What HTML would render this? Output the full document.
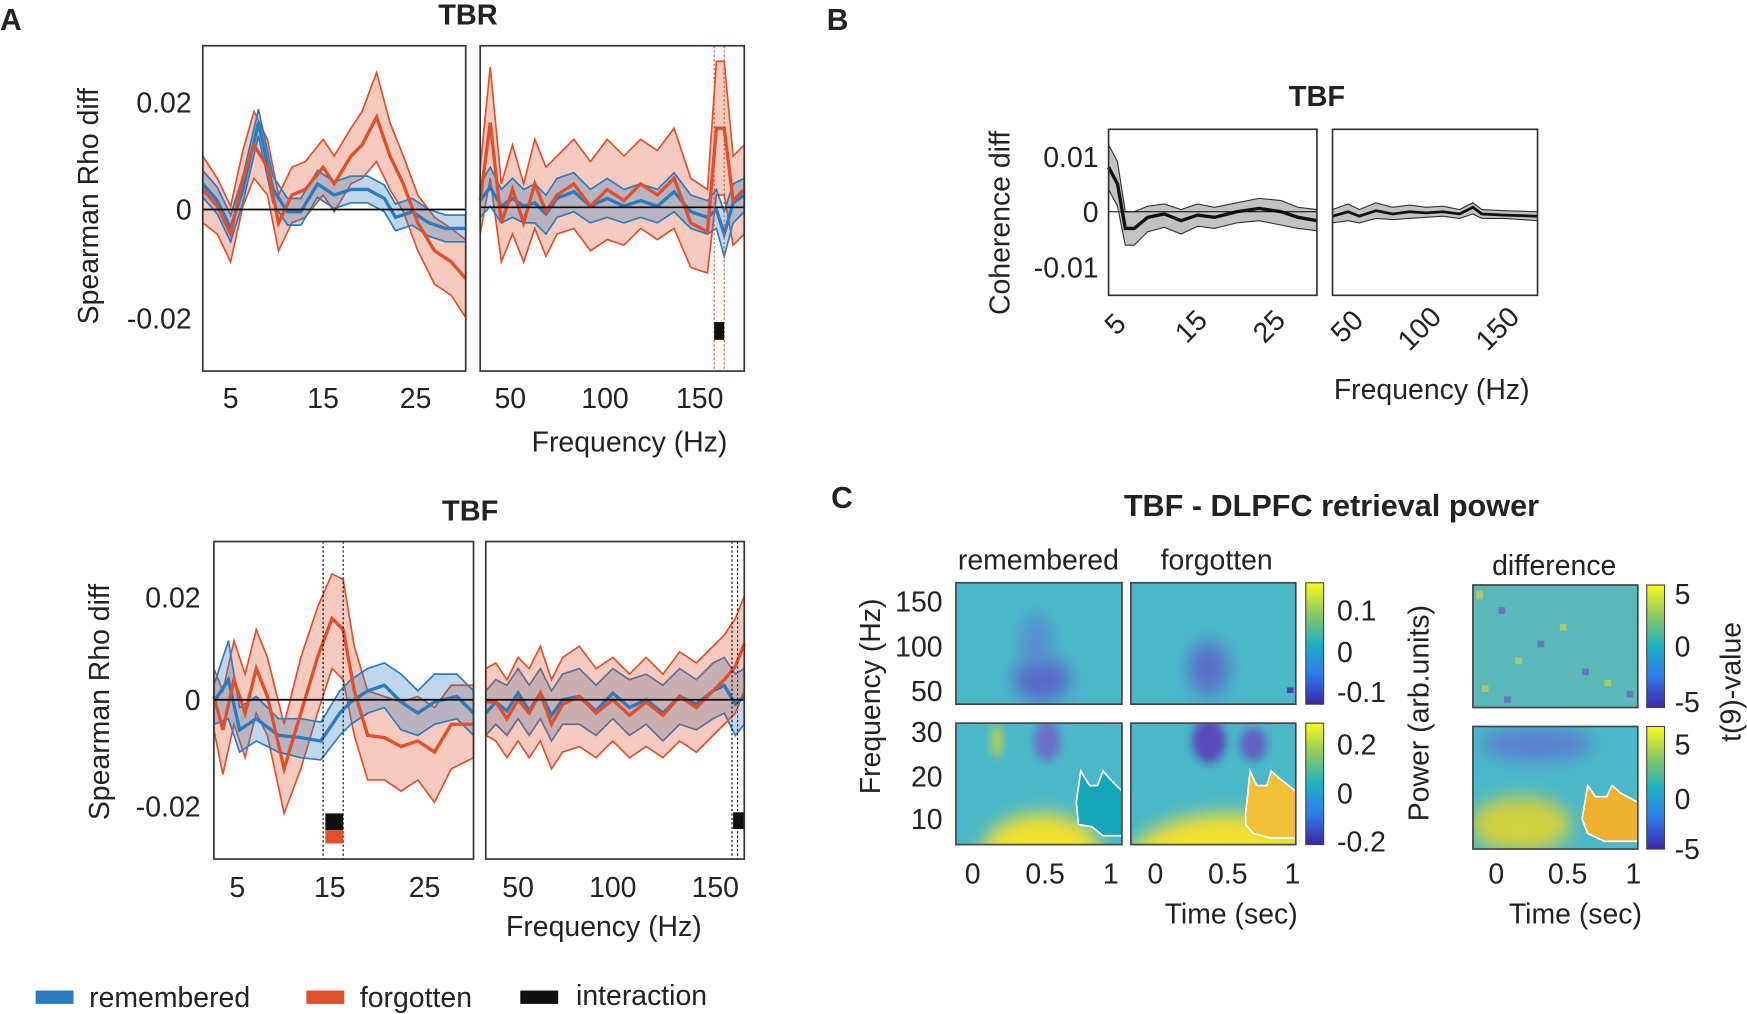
<!DOCTYPE html><html><head><style>body{margin:0;background:#fff}svg{display:block}text{font-family:"Liberation Sans",Arial,sans-serif;fill:#222}</style></head><body>
<svg width="1747" height="1014" viewBox="0 0 1568 910" xmlns="http://www.w3.org/2000/svg">
<defs>
<filter id="bl" x="-50%" y="-50%" width="200%" height="200%"><feGaussianBlur stdDeviation="8"/></filter>
<filter id="bl2" x="-50%" y="-50%" width="200%" height="200%"><feGaussianBlur stdDeviation="4"/></filter>
<linearGradient id="parula" x1="0" y1="1" x2="0" y2="0"><stop offset="0" stop-color="#3e26a8"/><stop offset="0.25" stop-color="#2d7bea"/><stop offset="0.5" stop-color="#1fb0c4"/><stop offset="0.75" stop-color="#8dc963"/><stop offset="1" stop-color="#f9fb15"/></linearGradient>
<clipPath id="c1"><rect x="858" y="649" width="149" height="109"/></clipPath>
<clipPath id="c2"><rect x="1015" y="649" width="148" height="109"/></clipPath>
<clipPath id="c3"><rect x="1322" y="652" width="148" height="110"/></clipPath>
<clipPath id="t1"><rect x="858" y="523" width="149" height="109"/></clipPath>
<clipPath id="t2"><rect x="1015" y="523" width="148" height="109"/></clipPath>
</defs>
<g font-size="26">
<text x="0" y="27" font-weight="bold" font-size="27">A</text>
<text x="742" y="27" font-weight="bold" font-size="27">B</text>
<text x="746" y="456" font-weight="bold" font-size="27">C</text>
<text x="420" y="22" font-weight="bold" text-anchor="middle">TBR</text>
<text x="422" y="467" font-weight="bold" text-anchor="middle">TBF</text>
<text x="1182" y="95" font-weight="bold" text-anchor="middle">TBF</text>
<text x="1195" y="463" font-weight="bold" text-anchor="middle" font-size="27.5">TBF - DLPFC retrieval power</text>
</g>
<!-- A top -->
<g fill-opacity="0.3" stroke-width="1.5">
<polygon fill="#e0502a" stroke="#e0502a" stroke-opacity="1" points="182,140 195,160 207,185 218,135 228,100 240,125 250,175 262,150 274,145 290,125 300,140 315,115 325,100 338,65 350,110 362,140 375,175 390,195 405,205 418,215 418,285 405,265 390,255 375,225 362,190 350,170 338,145 325,160 315,165 300,190 290,175 274,195 262,200 250,225 240,175 228,160 218,185 207,235 195,210 182,200"/>
<polygon fill="#2b7bbf" stroke="#2b7bbf" stroke-opacity="1" points="182,153 195,168 207,193 218,158 232,98 245,158 258,178 270,178 285,153 300,163 315,158 330,158 345,166 355,183 370,178 385,188 400,193 418,193 418,217 400,217 385,212 370,202 355,207 345,190 330,182 315,182 300,187 285,177 270,202 258,202 245,182 232,122 218,182 207,217 195,192 182,177"/>
<polygon fill="#e0502a" stroke="#e0502a" stroke-opacity="1" points="431,150 440,60 450,165 460,130 470,165 480,125 490,150 500,140 515,125 530,145 545,125 560,140 575,125 590,135 605,115 620,160 635,170 643,55 650,55 658,140 668,130 668,210 658,220 650,175 643,175 635,245 620,240 605,205 590,215 575,205 560,220 545,215 530,225 515,205 500,210 490,230 480,205 470,235 460,210 450,235 440,160 431,210"/>
<polygon fill="#2b7bbf" stroke="#2b7bbf" stroke-opacity="1" points="431,165 440,150 450,170 460,160 470,170 480,165 490,175 500,160 515,155 530,170 545,160 560,170 575,165 590,170 605,155 620,175 635,180 643,170 650,190 658,165 668,160 668,190 658,200 650,230 643,205 635,210 620,205 605,190 590,200 575,195 560,200 545,195 530,200 515,190 500,195 490,210 480,200 470,200 460,195 450,200 440,185 431,195"/>
</g>
<g fill="none" stroke-width="3">
<polyline stroke="#2b7bbf" points="182,165 195,180 207,205 218,170 232,110 245,170 258,190 270,190 285,165 300,175 315,170 330,170 345,178 355,195 370,190 385,200 400,205 418,205"/>
<polyline stroke="#e0502a" points="182,170 195,185 207,210 218,160 228,130 240,150 250,200 262,175 274,170 290,150 300,165 315,140 325,130 338,105 350,140 362,165 375,200 390,225 405,235 418,250"/>
<polyline stroke="#2b7bbf" points="431,180 440,168 450,185 460,178 470,185 480,182 490,192 500,178 515,172 530,185 545,178 560,185 575,180 590,185 605,172 620,190 635,195 643,188 650,210 658,182 668,175"/>
<polyline stroke="#e0502a" points="431,180 440,110 450,200 460,170 470,200 480,165 490,190 500,175 515,165 530,185 545,170 560,180 575,165 590,175 605,160 620,200 635,208 643,115 650,115 658,180 668,170"/>
</g>
<line x1="182" y1="188" x2="418" y2="188" stroke="#000" stroke-width="1.5"/>
<line x1="431" y1="186" x2="668" y2="186" stroke="#000" stroke-width="1.5"/>
<line x1="641" y1="41" x2="641" y2="333" stroke="#e0502a" stroke-dasharray="2,2"/>
<line x1="650" y1="41" x2="650" y2="333" stroke="#e0502a" stroke-dasharray="2,2"/>
<rect x="641" y="289" width="9" height="16" fill="#111"/>
<rect x="182" y="41" width="236" height="292" fill="none" stroke="#333" stroke-width="1.5"/>
<rect x="431" y="41" width="237" height="292" fill="none" stroke="#333" stroke-width="1.5"/>
<g font-size="25.5" text-anchor="middle">
<text x="172" y="101" text-anchor="end">0.02</text>
<text x="172" y="197" text-anchor="end">0</text>
<text x="172" y="295" text-anchor="end">-0.02</text>
<text x="207" y="366">5</text><text x="290" y="366">15</text><text x="373" y="366">25</text>
<text x="458" y="366">50</text><text x="543" y="366">100</text><text x="628" y="366">150</text>
<text x="565" y="405">Frequency (Hz)</text>
<text transform="translate(88,185) rotate(-90)">Spearman Rho diff</text>
</g>
<!-- A bottom -->
<g fill-opacity="0.3" stroke-width="1.5">
<polygon fill="#e0502a" stroke="#e0502a" stroke-opacity="1" points="192,600 200,620 210,575 220,605 230,565 240,590 255,650 270,590 285,545 298,515 308,520 318,580 330,620 345,625 360,630 375,625 390,635 405,615 425,615 425,680 405,690 390,720 375,700 360,710 345,700 330,700 318,660 308,610 298,600 285,640 270,690 255,730 240,660 230,640 220,680 210,650 200,695 192,655"/>
<polygon fill="#2b7bbf" stroke="#2b7bbf" stroke-opacity="1" points="192,615 205,575 215,635 230,625 250,645 270,645 288,648 305,620 315,610 330,600 345,595 360,605 375,620 390,605 410,605 425,620 425,660 410,645 390,650 375,660 360,655 345,635 330,640 315,650 305,660 288,682 270,680 250,675 230,665 215,675 205,645 192,650"/>
<polygon fill="#2b7bbf" stroke="#2b7bbf" stroke-opacity="1" points="436,620 445,610 455,615 465,600 475,615 485,600 495,620 505,605 520,600 535,615 550,600 565,610 580,605 595,615 610,600 625,610 640,595 650,590 660,605 668,600 668,650 660,660 650,640 640,645 625,655 610,650 595,665 580,650 565,660 550,645 535,660 520,650 505,650 495,665 485,645 475,660 465,645 455,660 445,650 436,660"/>
<polygon fill="#e0502a" stroke="#e0502a" stroke-opacity="1" points="436,600 445,595 455,610 465,590 475,600 485,580 495,610 505,590 520,580 535,600 550,590 565,605 580,590 595,605 610,585 625,595 640,580 650,570 660,555 668,535 668,620 660,640 650,650 640,660 625,675 610,665 595,680 580,670 565,680 550,665 535,680 520,670 505,675 495,690 485,665 475,680 465,665 455,680 445,665 436,660"/>
</g>
<g fill="none" stroke-width="3">
<polyline stroke="#2b7bbf" points="192,630 205,610 215,655 230,645 250,660 270,662 288,665 305,640 315,630 330,620 345,615 360,630 375,640 390,630 410,625 425,640"/>
<polyline stroke="#e0502a" points="192,625 200,655 210,610 220,640 230,600 240,625 255,690 270,640 285,590 298,555 308,565 318,620 330,660 345,662 360,670 375,665 390,675 405,650 425,650"/>
<polyline stroke="#2b7bbf" points="436,640 445,630 455,638 465,622 475,638 485,622 495,642 505,628 520,625 535,638 550,622 565,635 580,628 595,640 610,625 625,632 640,620 650,615 660,632 668,625"/>
<polyline stroke="#e0502a" points="436,630 445,630 455,645 465,628 475,640 485,622 495,650 505,632 520,625 535,640 550,628 565,642 580,630 595,642 610,625 625,635 640,620 650,610 660,598 668,578"/>
</g>
<line x1="192" y1="628" x2="425" y2="628" stroke="#000" stroke-width="1.5"/>
<line x1="436" y1="628" x2="668" y2="628" stroke="#000" stroke-width="1.5"/>
<line x1="290" y1="486" x2="290" y2="771" stroke="#000" stroke-dasharray="2,2"/>
<line x1="308" y1="486" x2="308" y2="771" stroke="#000" stroke-dasharray="2,2"/>
<line x1="657" y1="486" x2="657" y2="771" stroke="#000" stroke-dasharray="2,2"/>
<line x1="662" y1="486" x2="662" y2="771" stroke="#000" stroke-dasharray="2,2"/>
<rect x="292" y="730" width="16" height="15" fill="#111"/>
<rect x="292" y="745" width="16" height="12" fill="#e0502a"/>
<rect x="658" y="729" width="10" height="15" fill="#111"/>
<rect x="192" y="486" width="233" height="285" fill="none" stroke="#333" stroke-width="1.5"/>
<rect x="436" y="486" width="232" height="285" fill="none" stroke="#333" stroke-width="1.5"/>
<g font-size="25.5" text-anchor="middle">
<text x="180" y="545" text-anchor="end">0.02</text>
<text x="180" y="637" text-anchor="end">0</text>
<text x="180" y="733" text-anchor="end">-0.02</text>
<text x="213" y="805">5</text><text x="296" y="805">15</text><text x="381" y="805">25</text>
<text x="465" y="805">50</text><text x="550" y="805">100</text><text x="642" y="805">150</text>
<text x="542" y="840">Frequency (Hz)</text>
<text transform="translate(98,630) rotate(-90)">Spearman Rho diff</text>
</g>
<!-- legend -->
<rect x="32" y="889" width="34" height="12" fill="#2b7bbf"/>
<rect x="275" y="889" width="34" height="12" fill="#e0502a"/>
<rect x="467" y="889" width="34" height="12" fill="#111"/>
<g font-size="25.5"><text x="80" y="904">remembered</text><text x="323" y="904">forgotten</text><text x="517" y="902">interaction</text></g>
<!-- B -->
<polygon fill="#999" fill-opacity="0.6" stroke="#333" points="995,130 1003,145 1010,190 1018,190 1030,185 1045,183 1060,188 1075,183 1090,186 1110,182 1130,178 1150,180 1165,186 1182,188 1182,207 1165,205 1150,202 1130,198 1110,200 1090,205 1075,203 1060,210 1045,204 1030,208 1018,220 1010,220 1003,185 995,170"/>
<polyline fill="none" stroke="#111" stroke-width="3" points="995,150 1003,165 1010,205 1018,205 1030,195 1045,192 1060,198 1075,193 1090,195 1110,190 1130,187 1150,190 1165,195 1182,198"/>
<polygon fill="#999" fill-opacity="0.6" stroke="#333" points="1196,188 1210,183 1220,188 1235,182 1250,186 1265,184 1280,186 1295,185 1310,188 1322,182 1330,188 1350,189 1380,190 1380,198 1350,196 1330,196 1322,192 1310,196 1295,194 1280,195 1265,196 1250,197 1235,196 1220,200 1210,198 1196,200"/>
<polyline fill="none" stroke="#111" stroke-width="2.5" points="1196,194 1210,190 1220,194 1235,189 1250,192 1265,190 1280,191 1295,190 1310,192 1322,186 1330,192 1350,193 1380,194"/>
<line x1="995" y1="190" x2="1182" y2="190" stroke="#000"/>
<rect x="995" y="116" width="187" height="149" fill="none" stroke="#333" stroke-width="1.5"/>
<rect x="1196" y="116" width="184" height="149" fill="none" stroke="#333" stroke-width="1.5"/>
<g font-size="25.5">
<text x="986" y="150" text-anchor="end">0.01</text>
<text x="986" y="199" text-anchor="end">0</text>
<text x="986" y="249" text-anchor="end">-0.01</text>
<text text-anchor="middle" transform="translate(906,200) rotate(-90)">Coherence diff</text>
<text transform="translate(1002,302) rotate(-45)">5</text>
<text transform="translate(1065,309) rotate(-45)">15</text>
<text transform="translate(1135,309) rotate(-45)">25</text>
<text transform="translate(1205,309) rotate(-45)">50</text>
<text transform="translate(1265,316) rotate(-45)">100</text>
<text transform="translate(1335,316) rotate(-45)">150</text>
<text x="1285" y="358" text-anchor="middle">Frequency (Hz)</text>
</g>
<!-- C heatmaps -->
<g clip-path="url(#t1)"><rect x="858" y="523" width="149" height="109" fill="#4ab8c9"/><ellipse cx="935" cy="610" rx="25" ry="20" fill="#5a68c8" filter="url(#bl)"/><ellipse cx="930" cy="575" rx="12" ry="25" fill="#5888d0" filter="url(#bl)"/></g>
<g clip-path="url(#t2)"><rect x="1015" y="523" width="148" height="109" fill="#4ab8c9"/><ellipse cx="1085" cy="600" rx="18" ry="25" fill="#5a70c8" filter="url(#bl)"/><rect x="1155" y="617" width="6" height="5" fill="#5040b0"/></g>
<g clip-path="url(#c1)"><rect x="858" y="649" width="149" height="109" fill="#4ab8c9"/><ellipse cx="935" cy="770" rx="55" ry="40" fill="#f0e030" filter="url(#bl)"/><ellipse cx="940" cy="665" rx="12" ry="18" fill="#6a70c8" filter="url(#bl2)"/><ellipse cx="895" cy="665" rx="5" ry="15" fill="#b8d050" filter="url(#bl2)"/>
<polygon points="966,720 970,692 978,705 985,705 990,692 997,700 1007,710 1007,750 990,750 980,742 968,740 966,720" fill="#15a6b8" stroke="#fff" stroke-width="1.5"/></g>
<g clip-path="url(#c2)"><rect x="1015" y="649" width="148" height="109" fill="#4ab8c9"/><ellipse cx="1100" cy="780" rx="90" ry="50" fill="#f0e030" filter="url(#bl)"/><ellipse cx="1085" cy="665" rx="15" ry="20" fill="#5a48b8" filter="url(#bl2)"/><ellipse cx="1125" cy="668" rx="12" ry="15" fill="#6060c0" filter="url(#bl2)"/>
<polygon points="1118,730 1122,692 1128,705 1137,705 1141,692 1150,700 1163,710 1163,752 1140,752 1125,748 1118,740" fill="#f2c038" stroke="#fff" stroke-width="1.5"/></g>
<g clip-path="url(#c3)"><rect x="1322" y="652" width="148" height="110" fill="#4ab8c9"/><ellipse cx="1365" cy="740" rx="45" ry="25" fill="#d0d040" filter="url(#bl)"/><ellipse cx="1380" cy="668" rx="50" ry="15" fill="#5a80d0" filter="url(#bl)"/>
<polygon points="1420,735 1425,705 1432,715 1442,715 1447,705 1455,712 1470,720 1470,755 1440,755 1425,748" fill="#f0b030" stroke="#fff" stroke-width="1.5"/></g>
<rect x="1322" y="525" width="148" height="110" fill="#5ab8b8"/>
<g fill="#c8d050" opacity="0.7"><rect x="1325" y="530" width="6" height="8"/><rect x="1360" y="590" width="6" height="6"/><rect x="1400" y="560" width="6" height="6"/><rect x="1440" y="610" width="6" height="6"/><rect x="1330" y="615" width="6" height="6"/></g>
<g fill="#6a60c0" opacity="0.7"><rect x="1345" y="545" width="6" height="6"/><rect x="1380" y="575" width="6" height="6"/><rect x="1420" y="600" width="6" height="6"/><rect x="1460" y="620" width="6" height="6"/><rect x="1350" y="625" width="6" height="6"/></g>
<g fill="none" stroke="#444" stroke-width="1.5">
<rect x="858" y="523" width="149" height="109"/><rect x="1015" y="523" width="148" height="109"/>
<rect x="858" y="649" width="149" height="109"/><rect x="1015" y="649" width="148" height="109"/>
<rect x="1322" y="525" width="148" height="110"/><rect x="1322" y="652" width="148" height="110"/>
</g>
<rect x="1172" y="523" width="16" height="109" fill="url(#parula)" stroke="#444"/>
<rect x="1172" y="649" width="16" height="109" fill="url(#parula)" stroke="#444"/>
<rect x="1478" y="525" width="16" height="110" fill="url(#parula)" stroke="#444"/>
<rect x="1478" y="652" width="16" height="110" fill="url(#parula)" stroke="#444"/>
<g font-size="25.5">
<text x="932" y="511" text-anchor="middle">remembered</text>
<text x="1092" y="511" text-anchor="middle">forgotten</text>
<text x="1395" y="516" text-anchor="middle">difference</text>
<text x="1200" y="557">0.1</text><text x="1200" y="594">0</text><text x="1200" y="630">-0.1</text>
<text x="1200" y="677">0.2</text><text x="1200" y="721">0</text><text x="1200" y="764">-0.2</text>
<text x="1503" y="542">5</text><text x="1503" y="589">0</text><text x="1503" y="639">-5</text>
<text x="1503" y="677">5</text><text x="1503" y="726">0</text><text x="1503" y="771">-5</text>
<g text-anchor="end"><text x="846" y="549">150</text><text x="846" y="589">100</text><text x="846" y="629">50</text><text x="846" y="666">30</text><text x="846" y="706">20</text><text x="846" y="744">10</text></g>
<g text-anchor="middle">
<text x="873" y="793">0</text><text x="938" y="793">0.5</text><text x="997" y="793">1</text>
<text x="1037" y="793">0</text><text x="1102" y="793">0.5</text><text x="1160" y="793">1</text>
<text x="1343" y="793">0</text><text x="1407" y="793">0.5</text><text x="1466" y="793">1</text>
<text x="1105" y="829">Time (sec)</text><text x="1414" y="829">Time (sec)</text>
<text transform="translate(790,625) rotate(-90)">Frequency (Hz)</text>
<text transform="translate(1282,640) rotate(-90)">Power (arb.units)</text>
<text transform="translate(1562,612) rotate(-90)">t(9)-value</text>
</g></g>
</svg></body></html>
